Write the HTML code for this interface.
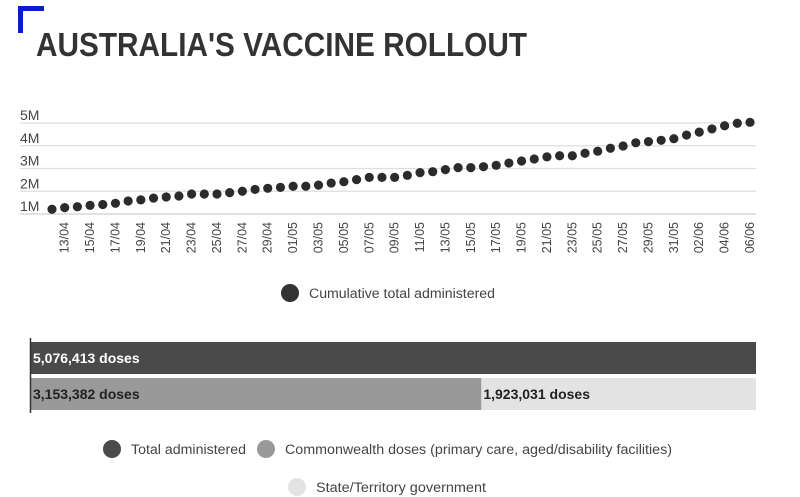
<!DOCTYPE html>
<html><head><meta charset="utf-8"><style>
body{margin:0;background:#fff;width:800px;height:497px;overflow:hidden}
svg{display:block;font-family:"Liberation Sans",sans-serif}
</style></head><body>
<svg width="800" height="497" viewBox="0 0 800 497">
<path d="M20.5 33 V8.5 H44" fill="none" stroke="#0a1ec8" stroke-width="5"/>
<text x="36" y="56" font-size="33" font-weight="bold" fill="#333" textLength="491" lengthAdjust="spacingAndGlyphs">AUSTRALIA'S VACCINE ROLLOUT</text>
<g id="grid"></g><g id="xlabels"></g><g id="dots"></g>
<circle cx="290" cy="293" r="9" fill="#333"/>
<text x="309" y="298" font-size="13.5" fill="#444" textLength="186" lengthAdjust="spacingAndGlyphs">Cumulative total administered</text>
<g id="bars"></g>
<line x1="30.5" y1="338" x2="30.5" y2="413" stroke="#333" stroke-width="1.5"/>
<circle cx="112" cy="449" r="9" fill="#4a4a4a"/>
<text x="131" y="454" font-size="13.5" fill="#444" textLength="115" lengthAdjust="spacingAndGlyphs">Total administered</text>
<circle cx="266" cy="449" r="9" fill="#999"/>
<text x="285" y="454" font-size="13.5" fill="#444" textLength="387" lengthAdjust="spacingAndGlyphs">Commonwealth doses (primary care, aged/disability facilities)</text>
<circle cx="297" cy="487" r="9" fill="#e3e3e3"/>
<text x="316" y="492" font-size="13.5" fill="#444" textLength="170" lengthAdjust="spacingAndGlyphs">State/Territory government</text>
</svg>
<script>
const dates=["12/04","13/04","14/04","15/04","16/04","17/04","18/04","19/04","20/04","21/04","22/04","23/04","24/04","25/04","26/04","27/04","28/04","29/04","30/04","01/05","02/05","03/05","04/05","05/05","06/05","07/05","08/05","09/05","10/05","11/05","12/05","13/05","14/05","15/05","16/05","17/05","18/05","19/05","20/05","21/05","22/05","23/05","24/05","25/05","26/05","27/05","28/05","29/05","30/05","31/05","01/06","02/06","03/06","04/06","05/06","06/06"];
const cumulative=[1.21,1.28,1.32,1.38,1.42,1.47,1.57,1.62,1.70,1.75,1.79,1.88,1.88,1.88,1.94,2.00,2.08,2.13,2.17,2.22,2.22,2.27,2.36,2.42,2.51,2.61,2.61,2.61,2.70,2.82,2.86,2.95,3.04,3.04,3.08,3.14,3.24,3.33,3.42,3.51,3.56,3.56,3.67,3.76,3.89,3.99,4.13,4.18,4.24,4.31,4.47,4.60,4.74,4.88,4.99,5.03];
const yTicks=[1,2,3,4,5];
const yTickLabels=["1M","2M","3M","4M","5M"];
const barTotal=5076413;
const commonwealth=3153382;
const stateTerritory=1923031;

const NS="http://www.w3.org/2000/svg";
function mk(tag,attrs,parent){const e=document.createElementNS(NS,tag);for(const k in attrs)e.setAttribute(k,attrs[k]);parent.appendChild(e);return e;}
const xS=i=>52+i*(750-52)/(dates.length-1);
const yS=v=>214-(v-1)*22.75;
const grid=document.getElementById('grid');
yTicks.forEach((t,i)=>{
  const l=mk('line',{x1:20,x2:756,y1:yS(t),y2:yS(t),stroke:i===0?'#cfcfcf':'#dedede','stroke-width':1.3},grid);
  
  
  const tx=mk('text',{x:20,y:yS(t)-3,'font-size':14,fill:'#444'},grid);
  tx.textContent=yTickLabels[i];
  
  
});
const xl=document.getElementById('xlabels');
dates.forEach((d,i)=>{
  if(i%2===0)return;
  const x=xS(i)+4;
  const tx=mk('text',{x:x,y:222,'font-size':12.5,fill:'#444','text-anchor':'end',transform:`rotate(-90 ${x} 222)`},xl);
  tx.textContent=d;
  
  
});
const dg=document.getElementById('dots');
cumulative.forEach((v,i)=>{
  const c=mk('circle',{cx:xS(i),cy:yS(v),r:4.6,fill:'#2b2b2b'},dg);
  
  
});
const bg=document.getElementById('bars');
const bx=v=>31+v/barTotal*725;
const b1=mk('rect',{x:31,y:342,width:bx(barTotal)-31,height:32,fill:'#4a4a4a'},bg);


const b2=mk('rect',{x:31,y:378,width:bx(commonwealth)-31,height:32,fill:'#999'},bg);


const b3=mk('rect',{x:bx(commonwealth),y:378,width:bx(commonwealth+stateTerritory)-bx(commonwealth),height:32,fill:'#e3e3e3'},bg);


const fmt=n=>n.toLocaleString('en-US')+' doses';
const t1=mk('text',{x:33,y:363,'font-size':14,'font-weight':'bold',fill:'#fff'},bg);
t1.textContent=fmt(barTotal);


const t2=mk('text',{x:33,y:399,'font-size':14,'font-weight':'bold',fill:'#222'},bg);
t2.textContent=fmt(commonwealth);


const t3=mk('text',{x:bx(commonwealth)+2,y:399,'font-size':14,'font-weight':'bold',fill:'#222'},bg);
t3.textContent=fmt(stateTerritory);


</script>
</body></html>
